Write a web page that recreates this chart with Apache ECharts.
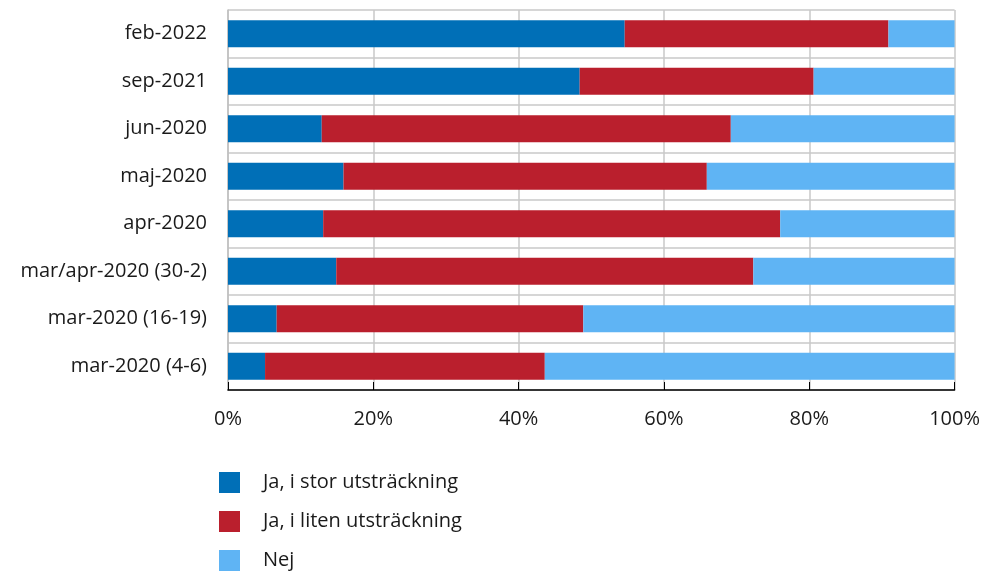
<!DOCTYPE html>
<html><head><meta charset="utf-8">
<script src="https://cdn.jsdelivr.net/npm/echarts@6/dist/echarts.min.js"></script>
<style>html,body{margin:0;padding:0;background:#fff}#c{width:983px;height:571px}</style>
</head><body><div id="c"></div>
<script>
const categories = ['feb-2022','sep-2021','jun-2020','maj-2020','apr-2020','mar/apr-2020 (30-2)','mar-2020 (16-19)','mar-2020 (4-6)'];
const stor = [54.6, 48.4, 12.9, 15.9, 13.1, 14.9, 6.7, 5.1];
const liten = [36.3, 32.2, 56.3, 50.0, 62.9, 57.4, 42.2, 38.5];
const nej = [9.1, 19.4, 30.8, 34.1, 24.0, 27.7, 51.1, 56.4];
const xTicks = [0, 20, 40, 60, 80, 100];
const seriesNames = ['Ja, i stor utsträckning','Ja, i liten utsträckning','Nej'];
const colors = ['#006FB7','#BA1F2D','#5FB4F4'];
const FONT = 'Open Sans';
const FS = 20;
const chart = echarts.init(document.getElementById('c'));
const mk = (name, data, color) => ({
  name, type: 'bar', stack: 'a', data, barCategoryGap: '43%',
  itemStyle: { color }, emphasis: { disabled: true }
});
chart.setOption({
  animation: false,
  textStyle: { fontFamily: FONT },
  grid: { left: 228, right: 28, top: 10, bottom: 181, containLabel: false },
  legend: {
    orient: 'vertical', left: 219, top: 472, height: 140, padding: 0, icon: 'rect',
    itemWidth: 21, itemHeight: 21, itemGap: 18,
    textStyle: { fontFamily: FONT, fontSize: FS, color: '#1a1a1a', padding: [0, 0, 0, 18] },
    data: seriesNames
  },
  xAxis: {
    type: 'value', min: xTicks[0], max: xTicks[xTicks.length - 1], interval: 20,
    axisLine: { show: true, lineStyle: { color: '#000', width: 1.5 } },
    axisTick: { show: true, inside: true, length: 8, lineStyle: { color: '#000' } },
    axisLabel: { formatter: '{value}%', fontFamily: FONT, fontSize: FS, color: '#1a1a1a', margin: 19 },
    splitLine: { show: true, lineStyle: { color: '#C8C8C8', width: 1.5 } }
  },
  yAxis: {
    type: 'category', data: categories, inverse: true,
    axisLine: { show: true, lineStyle: { color: '#BFBFBF', width: 1.5 } },
    axisTick: { show: false },
    axisLabel: { fontFamily: FONT, fontSize: FS, color: '#1a1a1a', margin: 21 },
    splitLine: { show: true, interval: 0, lineStyle: { color: '#C8C8C8', width: 1.5 } }
  },
  series: [mk(seriesNames[0], stor, colors[0]), mk(seriesNames[1], liten, colors[1]), mk(seriesNames[2], nej, colors[2])]
});
</script></body></html>
